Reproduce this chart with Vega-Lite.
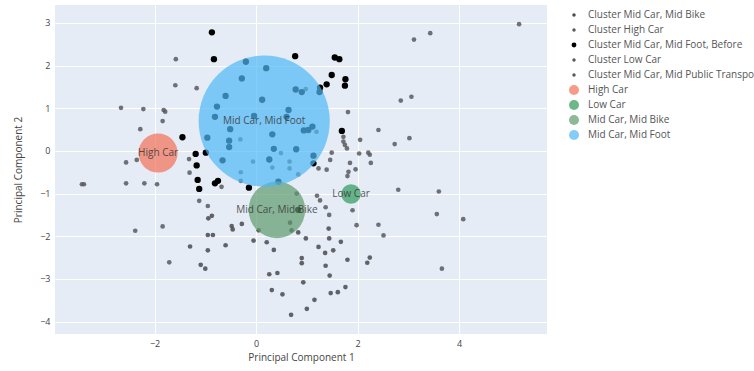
{
  "$schema": "https://vega.github.io/schema/vega-lite/v6.json",
  "width": 492,
  "height": 329,
  "autosize": {"type": "none"},
  "padding": {"left": 55, "top": 5, "right": 207, "bottom": 37},
  "background": "white",
  "config": {
    "font": "Open Sans",
    "view": {"fill": "#E5ECF6", "stroke": null},
    "axis": {"domain": false, "ticks": false, "gridColor": "white", "gridWidth": 1, "labelColor": "#444", "labelFontSize": 9, "titleColor": "#444", "titleFontSize": 10, "titleFontWeight": "normal"}
  },
  "datasets": {
    "pts": [
      {"series": "Cluster Mid Car, Mid Foot, Before", "pc1": -0.87, "pc2": 2.78},
      {"series": "Cluster Mid Car, Mid Foot, Before", "pc1": -0.83, "pc2": 2.15},
      {"series": "Cluster Mid Car, Mid Foot, Before", "pc1": -1.45, "pc2": 0.32},
      {"series": "Cluster Mid Car, Mid Foot, Before", "pc1": -1.19, "pc2": -0.07},
      {"series": "Cluster Mid Car, Mid Foot, Before", "pc1": -1.17, "pc2": -0.34},
      {"series": "Cluster Mid Car, Mid Foot, Before", "pc1": -1.15, "pc2": -0.68},
      {"series": "Cluster Mid Car, Mid Foot, Before", "pc1": -1.12, "pc2": -0.89},
      {"series": "Cluster Mid Car, Mid Foot, Before", "pc1": -0.81, "pc2": -0.76},
      {"series": "Cluster Mid Car, Mid Foot, Before", "pc1": -0.75, "pc2": -0.70},
      {"series": "Cluster Mid Car, Mid Foot, Before", "pc1": 1.55, "pc2": 2.19},
      {"series": "Cluster Mid Car, Mid Foot, Before", "pc1": 1.64, "pc2": 2.15},
      {"series": "Cluster Mid Car, Mid Foot, Before", "pc1": 1.49, "pc2": 1.78},
      {"series": "Cluster Mid Car, Mid Foot, Before", "pc1": 1.76, "pc2": 1.68},
      {"series": "Cluster Mid Car, Mid Foot, Before", "pc1": 1.75, "pc2": 1.53},
      {"series": "Cluster Mid Car, Mid Foot, Before", "pc1": 1.69, "pc2": 0.47},
      {"series": "Cluster Mid Car, Mid Foot, Before", "pc1": -0.20, "pc2": 2.09},
      {"series": "Cluster Mid Car, Mid Foot, Before", "pc1": 0.20, "pc2": 1.94},
      {"series": "Cluster Mid Car, Mid Foot, Before", "pc1": -0.28, "pc2": 1.70},
      {"series": "Cluster Mid Car, Mid Foot, Before", "pc1": 0.77, "pc2": 2.22},
      {"series": "Cluster Mid Car, Mid Foot, Before", "pc1": -0.60, "pc2": 1.29},
      {"series": "Cluster Mid Car, Mid Foot, Before", "pc1": 0.12, "pc2": 1.20},
      {"series": "Cluster Mid Car, Mid Foot, Before", "pc1": -0.77, "pc2": 1.04},
      {"series": "Cluster Mid Car, Mid Foot, Before", "pc1": -0.81, "pc2": 0.80},
      {"series": "Cluster Mid Car, Mid Foot, Before", "pc1": 0.64, "pc2": 0.96},
      {"series": "Cluster Mid Car, Mid Foot, Before", "pc1": 0.78, "pc2": 1.44},
      {"series": "Cluster Mid Car, Mid Foot, Before", "pc1": 0.90, "pc2": 1.38},
      {"series": "Cluster Mid Car, Mid Foot, Before", "pc1": 1.25, "pc2": 1.38},
      {"series": "Cluster Mid Car, Mid Foot, Before", "pc1": 1.26, "pc2": 1.48},
      {"series": "Cluster Mid Car, Mid Foot, Before", "pc1": -0.04, "pc2": 0.82},
      {"series": "Cluster Mid Car, Mid Foot, Before", "pc1": 0.60, "pc2": 0.80},
      {"series": "Cluster Mid Car, Mid Foot, Before", "pc1": -0.51, "pc2": 0.51},
      {"series": "Cluster Mid Car, Mid Foot, Before", "pc1": -0.96, "pc2": 0.31},
      {"series": "Cluster Mid Car, Mid Foot, Before", "pc1": -0.53, "pc2": 0.24},
      {"series": "Cluster Mid Car, Mid Foot, Before", "pc1": -0.53, "pc2": 0.09},
      {"series": "Cluster Mid Car, Mid Foot, Before", "pc1": 0.32, "pc2": 0.39},
      {"series": "Cluster Mid Car, Mid Foot, Before", "pc1": 0.94, "pc2": 0.48},
      {"series": "Cluster Mid Car, Mid Foot, Before", "pc1": 1.03, "pc2": 0.49},
      {"series": "Cluster Mid Car, Mid Foot, Before", "pc1": 0.35, "pc2": 0.05},
      {"series": "Cluster Mid Car, Mid Foot, Before", "pc1": 0.79, "pc2": 0.04},
      {"series": "Cluster Mid Car, Mid Foot, Before", "pc1": 0.26, "pc2": -0.20},
      {"series": "Cluster Mid Car, Mid Foot, Before", "pc1": -0.66, "pc2": -0.22},
      {"series": "Cluster Mid Car, Mid Foot, Before", "pc1": -0.99, "pc2": -0.04},
      {"series": "Cluster Mid Car, Mid Foot, Before", "pc1": 1.13, "pc2": -0.11},
      {"series": "Cluster Mid Car, Mid Foot, Before", "pc1": 1.13, "pc2": -0.29},
      {"series": "Cluster Mid Car, Mid Foot, Before", "pc1": -0.14, "pc2": -0.86},
      {"series": "Cluster Mid Car, Mid Foot, Before", "pc1": 0.44, "pc2": -0.72},
      {"series": "Cluster Mid Car, Mid Foot, Before", "pc1": 1.11, "pc2": 0.57},
      {"series": "Cluster Mid Car, Mid Foot, Before", "pc1": 1.39, "pc2": 1.56},
      {"series": "Cluster Mid Car, Mid Foot, Before", "pc1": 0.83, "pc2": -1.38},
      {"series": "Cluster Mid Car, Mid Public Transport", "pc1": -0.31, "pc2": 0.27},
      {"series": "Cluster Mid Car, Mid Public Transport", "pc1": -0.06, "pc2": -0.25},
      {"series": "Cluster Mid Car, Mid Public Transport", "pc1": 0.49, "pc2": -0.05},
      {"series": "Cluster Mid Car, Mid Public Transport", "pc1": 0.66, "pc2": -0.25},
      {"series": "Cluster Mid Car, Mid Public Transport", "pc1": 0.66, "pc2": -0.41},
      {"series": "Cluster Mid Car, Mid Public Transport", "pc1": 0.32, "pc2": -0.39},
      {"series": "Cluster Mid Car, Mid Public Transport", "pc1": -0.30, "pc2": -0.50},
      {"series": "Cluster Mid Car, Mid Public Transport", "pc1": -0.30, "pc2": -0.70},
      {"series": "Cluster Mid Car, Mid Public Transport", "pc1": 0.83, "pc2": -0.55},
      {"series": "Cluster Mid Car, Mid Public Transport", "pc1": 1.23, "pc2": -0.41},
      {"series": "Cluster Mid Car, Mid Public Transport", "pc1": 1.19, "pc2": 0.45},
      {"series": "Cluster Mid Car, Mid Public Transport", "pc1": 0.98, "pc2": 1.45},
      {"series": "Cluster Mid Car, Mid Public Transport", "pc1": -1.17, "pc2": 1.47},
      {"series": "Cluster Mid Car, Mid Public Transport", "pc1": -1.32, "pc2": -0.19},
      {"series": "Cluster Mid Car, Mid Public Transport", "pc1": -1.31, "pc2": -0.51},
      {"series": "Cluster Mid Car, Mid Public Transport", "pc1": -0.68, "pc2": -0.84},
      {"series": "Cluster Mid Car, Mid Public Transport", "pc1": -1.12, "pc2": -1.17},
      {"series": "Cluster Mid Car, Mid Public Transport", "pc1": -0.95, "pc2": -1.29},
      {"series": "Cluster Mid Car, Mid Public Transport", "pc1": 0.80, "pc2": -1.00},
      {"series": "Cluster Mid Car, Mid Public Transport", "pc1": 1.20, "pc2": -1.05},
      {"series": "Cluster Mid Car, Mid Public Transport", "pc1": 1.26, "pc2": -1.16},
      {"series": "Cluster Mid Car, Mid Public Transport", "pc1": 1.37, "pc2": -1.32},
      {"series": "Cluster Mid Car, Mid Public Transport", "pc1": 1.46, "pc2": -0.21},
      {"series": "Cluster Mid Car, Mid Public Transport", "pc1": 1.49, "pc2": -0.04},
      {"series": "Cluster Mid Car, Mid Public Transport", "pc1": 1.39, "pc2": -0.44},
      {"series": "Cluster High Car", "pc1": -1.58, "pc2": 2.15},
      {"series": "Cluster High Car", "pc1": -1.59, "pc2": 1.54},
      {"series": "Cluster High Car", "pc1": -2.66, "pc2": 1.01},
      {"series": "Cluster High Car", "pc1": -2.22, "pc2": 0.98},
      {"series": "Cluster High Car", "pc1": -1.82, "pc2": 0.96},
      {"series": "Cluster High Car", "pc1": -1.79, "pc2": 0.92},
      {"series": "Cluster High Car", "pc1": -1.84, "pc2": 0.70},
      {"series": "Cluster High Car", "pc1": -2.28, "pc2": 0.51},
      {"series": "Cluster High Car", "pc1": -2.56, "pc2": -0.27},
      {"series": "Cluster High Car", "pc1": -2.35, "pc2": -0.21},
      {"series": "Cluster High Car", "pc1": -3.43, "pc2": -0.78},
      {"series": "Cluster High Car", "pc1": -3.39, "pc2": -0.78},
      {"series": "Cluster High Car", "pc1": -2.56, "pc2": -0.76},
      {"series": "Cluster High Car", "pc1": -2.20, "pc2": -0.76},
      {"series": "Cluster High Car", "pc1": -1.95, "pc2": -0.78},
      {"series": "Cluster High Car", "pc1": -2.38, "pc2": -1.87},
      {"series": "Cluster High Car", "pc1": -1.84, "pc2": -1.77},
      {"series": "Cluster High Car", "pc1": -1.71, "pc2": -2.61},
      {"series": "Cluster Mid Car, Mid Bike", "pc1": -0.94, "pc2": -1.58},
      {"series": "Cluster Mid Car, Mid Bike", "pc1": -0.87, "pc2": -1.52},
      {"series": "Cluster Mid Car, Mid Bike", "pc1": -0.48, "pc2": -1.76},
      {"series": "Cluster Mid Car, Mid Bike", "pc1": -0.46, "pc2": -1.84},
      {"series": "Cluster Mid Car, Mid Bike", "pc1": -0.28, "pc2": -1.71},
      {"series": "Cluster Mid Car, Mid Bike", "pc1": -0.95, "pc2": -1.97},
      {"series": "Cluster Mid Car, Mid Bike", "pc1": -0.85, "pc2": -1.97},
      {"series": "Cluster Mid Car, Mid Bike", "pc1": -1.30, "pc2": -2.24},
      {"series": "Cluster Mid Car, Mid Bike", "pc1": -0.60, "pc2": -2.21},
      {"series": "Cluster Mid Car, Mid Bike", "pc1": -0.05, "pc2": -2.10},
      {"series": "Cluster Mid Car, Mid Bike", "pc1": 0.21, "pc2": -2.14},
      {"series": "Cluster Mid Car, Mid Bike", "pc1": 0.35, "pc2": -2.32},
      {"series": "Cluster Mid Car, Mid Bike", "pc1": -0.95, "pc2": -2.33},
      {"series": "Cluster Mid Car, Mid Bike", "pc1": -1.09, "pc2": -2.67},
      {"series": "Cluster Mid Car, Mid Bike", "pc1": -1.00, "pc2": -2.76},
      {"series": "Cluster Mid Car, Mid Bike", "pc1": 0.26, "pc2": -2.89},
      {"series": "Cluster Mid Car, Mid Bike", "pc1": 0.42, "pc2": -2.86},
      {"series": "Cluster Mid Car, Mid Bike", "pc1": 0.31, "pc2": -3.26},
      {"series": "Cluster Mid Car, Mid Bike", "pc1": 0.52, "pc2": -3.36},
      {"series": "Cluster Mid Car, Mid Bike", "pc1": 0.69, "pc2": -3.84},
      {"series": "Cluster Mid Car, Mid Bike", "pc1": 0.05, "pc2": -1.86},
      {"series": "Cluster Mid Car, Mid Bike", "pc1": 0.67, "pc2": -1.68},
      {"series": "Cluster Mid Car, Mid Bike", "pc1": 0.70, "pc2": -1.86},
      {"series": "Cluster Mid Car, Mid Bike", "pc1": 0.83, "pc2": -1.91},
      {"series": "Cluster Mid Car, Mid Bike", "pc1": 0.98, "pc2": -2.05},
      {"series": "Cluster Mid Car, Mid Bike", "pc1": 1.23, "pc2": -2.25},
      {"series": "Cluster Mid Car, Mid Bike", "pc1": 1.36, "pc2": -2.39},
      {"series": "Cluster Mid Car, Mid Bike", "pc1": 0.90, "pc2": -2.51},
      {"series": "Cluster Mid Car, Mid Bike", "pc1": 0.90, "pc2": -2.63},
      {"series": "Cluster Mid Car, Mid Bike", "pc1": 1.37, "pc2": -2.69},
      {"series": "Cluster Mid Car, Mid Bike", "pc1": 1.45, "pc2": -2.92},
      {"series": "Cluster Mid Car, Mid Bike", "pc1": 0.93, "pc2": -3.08},
      {"series": "Cluster Mid Car, Mid Bike", "pc1": 1.47, "pc2": -3.33},
      {"series": "Cluster Mid Car, Mid Bike", "pc1": 1.61, "pc2": -3.31},
      {"series": "Cluster Mid Car, Mid Bike", "pc1": 1.76, "pc2": -3.19},
      {"series": "Cluster Mid Car, Mid Bike", "pc1": 1.15, "pc2": -3.49},
      {"series": "Cluster Mid Car, Mid Bike", "pc1": 1.00, "pc2": -3.70},
      {"series": "Cluster Mid Car, Mid Bike", "pc1": 1.43, "pc2": -1.82},
      {"series": "Cluster Mid Car, Mid Bike", "pc1": 1.44, "pc2": -2.05},
      {"series": "Cluster Mid Car, Mid Bike", "pc1": 1.67, "pc2": -2.13},
      {"series": "Cluster Mid Car, Mid Bike", "pc1": 1.52, "pc2": -2.33},
      {"series": "Cluster Mid Car, Mid Bike", "pc1": 1.80, "pc2": -2.55},
      {"series": "Cluster Mid Car, Mid Bike", "pc1": 2.24, "pc2": -2.50},
      {"series": "Cluster Mid Car, Mid Bike", "pc1": 2.19, "pc2": -2.62},
      {"series": "Cluster Low Car", "pc1": 5.18, "pc2": 2.97},
      {"series": "Cluster Low Car", "pc1": 3.43, "pc2": 2.76},
      {"series": "Cluster Low Car", "pc1": 3.11, "pc2": 2.61},
      {"series": "Cluster Low Car", "pc1": 2.85, "pc2": 1.18},
      {"series": "Cluster Low Car", "pc1": 3.06, "pc2": 1.27},
      {"series": "Cluster Low Car", "pc1": 1.81, "pc2": 0.91},
      {"series": "Cluster Low Car", "pc1": 2.41, "pc2": 0.49},
      {"series": "Cluster Low Car", "pc1": 2.05, "pc2": 0.26},
      {"series": "Cluster Low Car", "pc1": 2.73, "pc2": 0.16},
      {"series": "Cluster Low Car", "pc1": 3.02, "pc2": 0.30},
      {"series": "Cluster Low Car", "pc1": 1.72, "pc2": 0.33},
      {"series": "Cluster Low Car", "pc1": 1.72, "pc2": 0.22},
      {"series": "Cluster Low Car", "pc1": 1.75, "pc2": 0.14},
      {"series": "Cluster Low Car", "pc1": 1.79, "pc2": 0.06},
      {"series": "Cluster Low Car", "pc1": 2.03, "pc2": -0.06},
      {"series": "Cluster Low Car", "pc1": 2.21, "pc2": -0.04},
      {"series": "Cluster Low Car", "pc1": 2.24, "pc2": -0.09},
      {"series": "Cluster Low Car", "pc1": 1.85, "pc2": -0.28},
      {"series": "Cluster Low Car", "pc1": 2.26, "pc2": -0.28},
      {"series": "Cluster Low Car", "pc1": 1.96, "pc2": -0.43},
      {"series": "Cluster Low Car", "pc1": 1.82, "pc2": -0.49},
      {"series": "Cluster Low Car", "pc1": 1.80, "pc2": -0.59},
      {"series": "Cluster Low Car", "pc1": 2.80, "pc2": -0.91},
      {"series": "Cluster Low Car", "pc1": 3.60, "pc2": -0.95},
      {"series": "Cluster Low Car", "pc1": 3.56, "pc2": -1.48},
      {"series": "Cluster Low Car", "pc1": 4.08, "pc2": -1.60},
      {"series": "Cluster Low Car", "pc1": 1.90, "pc2": -1.39},
      {"series": "Cluster Low Car", "pc1": 1.44, "pc2": -1.50},
      {"series": "Cluster Low Car", "pc1": 1.98, "pc2": -1.74},
      {"series": "Cluster Low Car", "pc1": 2.41, "pc2": -1.73},
      {"series": "Cluster Low Car", "pc1": 2.51, "pc2": -1.98},
      {"series": "Cluster Low Car", "pc1": 3.66, "pc2": -2.76}
    ],
    "bubbles": [
      {"series": "High Car", "pc1": -1.93, "pc2": -0.05, "n": 4},
      {"series": "Low Car", "pc1": 1.87, "pc2": -1.01, "n": 1},
      {"series": "Mid Car, Mid Bike", "pc1": 0.41, "pc2": -1.38, "n": 8.4},
      {"series": "Mid Car, Mid Foot", "pc1": 0.16, "pc2": 0.70, "n": 45}
    ]
  },
  "encoding": {
    "x": {"field": "pc1", "type": "quantitative", "scale": {"domain": [-3.96, 5.73], "nice": false, "zero": false},
      "axis": {"values": [-2, 0, 2, 4], "title": "Principal Component 1", "labelPadding": 5, "titlePadding": 4}},
    "y": {"field": "pc2", "type": "quantitative", "scale": {"domain": [-4.29, 3.42], "nice": false, "zero": false},
      "axis": {"values": [-4, -3, -2, -1, 0, 1, 2, 3], "title": "Principal Component 2", "labelPadding": 5, "titlePadding": 16}},
    "color": {"field": "series", "type": "nominal",
      "scale": {
        "domain": ["Cluster Mid Car, Mid Bike", "Cluster High Car", "Cluster Mid Car, Mid Foot, Before", "Cluster Low Car", "Cluster Mid Car, Mid Public Transport", "High Car", "Low Car", "Mid Car, Mid Bike", "Mid Car, Mid Foot"],
        "range": ["#4a4a4e", "#5a5a5e", "#000000", "#5a5a5e", "#5a5a5e", "#F47157", "#2E9A5A", "#5E9A6C", "#4FB8F5"]
      },
      "legend": {
        "title": null, "orient": "none", "legendX": 514, "legendY": 5,
        "symbolType": "circle",
        "symbolSize": {"expr": "indexof(['High Car','Low Car','Mid Car, Mid Bike','Mid Car, Mid Foot'], datum.value) >= 0 ? 100 : (datum.value == 'Cluster Mid Car, Mid Foot, Before' ? 24 : 12)"},
        "symbolOpacity": {"expr": "indexof(['High Car','Low Car','Mid Car, Mid Bike','Mid Car, Mid Foot'], datum.value) >= 0 ? 0.7 : 1"},
        "labelFontSize": 10, "labelColor": "#555",
        "labelOffset": 9, "rowPadding": 5, "labelLimit": 300
      }
    }
  },
  "layer": [
    {
      "data": {"name": "pts"},
      "transform": [{"filter": "datum.series != 'Cluster Mid Car, Mid Foot, Before'"}],
      "mark": {"type": "circle", "size": 22, "opacity": 0.85}
    },
    {
      "data": {"name": "pts"},
      "transform": [{"filter": "datum.series == 'Cluster Mid Car, Mid Foot, Before'"}],
      "mark": {"type": "circle", "size": 40, "opacity": 1}
    },
    {
      "data": {"name": "bubbles"},
      "mark": {"type": "circle", "opacity": 0.7},
      "encoding": {
        "size": {"field": "n", "type": "quantitative", "scale": {"domain": [0, 45], "range": [0, 17203], "zero": true}, "legend": null}
      }
    },
    {
      "data": {"name": "bubbles"},
      "mark": {"type": "text", "fontSize": 10, "opacity": 0.85},
      "encoding": {"color": {"value": "#3a3a3a"}, "text": {"field": "series", "type": "nominal"}}
    }
  ]
}
